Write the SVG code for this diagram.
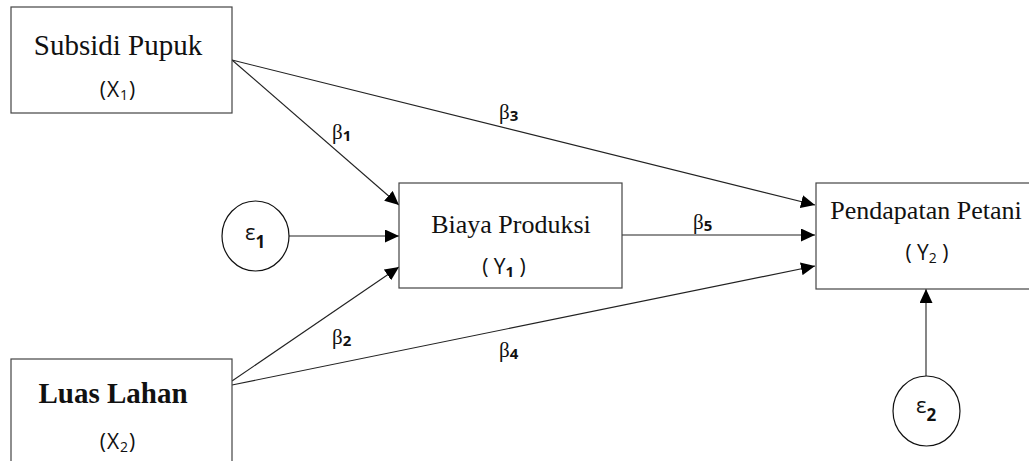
<svg xmlns="http://www.w3.org/2000/svg" width="1029" height="461" viewBox="0 0 1029 461">
<style>
.box{fill:#fff;stroke:#444;stroke-width:1.2}
.circ{fill:#fff;stroke:#111;stroke-width:1.2}
.ser{font-family:"Liberation Serif","Times New Roman",serif;fill:#111;text-anchor:middle}
.san{font-family:"Open Sans","Liberation Sans",sans-serif;fill:#111;text-anchor:middle}
.lbl{font-family:"Liberation Serif",serif;fill:#111;font-size:21px}
.sub{font-family:"Open Sans","Liberation Sans",sans-serif;font-weight:bold}
.conn line{stroke:#222;stroke-width:1.1}
</style>
<defs>
<marker id="arr" markerUnits="userSpaceOnUse" markerWidth="15" markerHeight="13" refX="14" refY="6.5" orient="auto">
<path d="M0,0 L14,6.5 L0,13 z" fill="#000"/>
</marker>
</defs>
<g id="connectors" class="conn">
<line x1="232" y1="60" x2="399" y2="205" marker-end="url(#arr)"/>
<line x1="232" y1="60" x2="815" y2="205" marker-end="url(#arr)"/>
<line x1="289" y1="236" x2="399" y2="236" marker-end="url(#arr)"/>
<line x1="232" y1="381" x2="399" y2="267" marker-end="url(#arr)"/>
<line x1="232" y1="385" x2="815" y2="266" marker-end="url(#arr)"/>
<line x1="622" y1="235" x2="815" y2="235" marker-end="url(#arr)"/>
<line x1="926" y1="376" x2="926" y2="289" marker-end="url(#arr)"/>
<text class="lbl" x="332" y="139">β<tspan class="sub" font-size="15" dy="2">1</tspan></text>
<text class="lbl" x="499" y="119">β<tspan class="sub" font-size="15" dy="2">3</tspan></text>
<text class="lbl" x="332" y="344">β<tspan class="sub" font-size="15" dy="2">2</tspan></text>
<text class="lbl" x="499" y="357">β<tspan class="sub" font-size="15" dy="2">4</tspan></text>
<text class="lbl" x="693" y="229">β<tspan class="sub" font-size="15" dy="2">5</tspan></text>
</g>
<g id="x1">
<rect class="box" x="11" y="7" width="221" height="106"/>
<text class="ser" x="118" y="55" font-size="29">Subsidi Pupuk</text>
<text class="san" x="118" y="97" font-size="21" letter-spacing="1">(X<tspan font-size="14" dy="3">1</tspan><tspan dy="-3">)</tspan></text>
</g>
<g id="x2">
<rect class="box" x="11" y="359" width="221" height="120"/>
<text class="ser" x="113" y="403" font-size="29" font-weight="bold">Luas Lahan</text>
<text class="san" x="118" y="449" font-size="21" letter-spacing="1">(X<tspan font-size="14" dy="3">2</tspan><tspan dy="-3">)</tspan></text>
</g>
<g id="y1">
<rect class="box" x="399" y="183" width="223" height="105"/>
<text class="ser" x="511" y="233" font-size="26">Biaya Produksi</text>
<text class="san" x="504" y="274" font-size="21">( Y<tspan class="sub" font-size="15" dy="3">1</tspan><tspan dy="-3"> )</tspan></text>
</g>
<g id="y2">
<rect class="box" x="816" y="183" width="230" height="106"/>
<text class="ser" x="926" y="219" font-size="26">Pendapatan Petani</text>
<text class="san" x="927" y="260" font-size="21">( Y<tspan font-size="14" dy="3">2</tspan><tspan dy="-3"> )</tspan></text>
</g>
<g id="e1">
<ellipse class="circ" cx="255.5" cy="236" rx="33.5" ry="35"/>
<text class="san" x="255" y="240" font-size="22">ε<tspan class="sub" font-size="17" dy="8">1</tspan></text>
</g>
<g id="e2">
<ellipse class="circ" cx="926.5" cy="411" rx="33.5" ry="35"/>
<text class="san" x="926" y="413" font-size="22">ε<tspan class="sub" font-size="17" dy="8">2</tspan></text>
</g>
</svg>
